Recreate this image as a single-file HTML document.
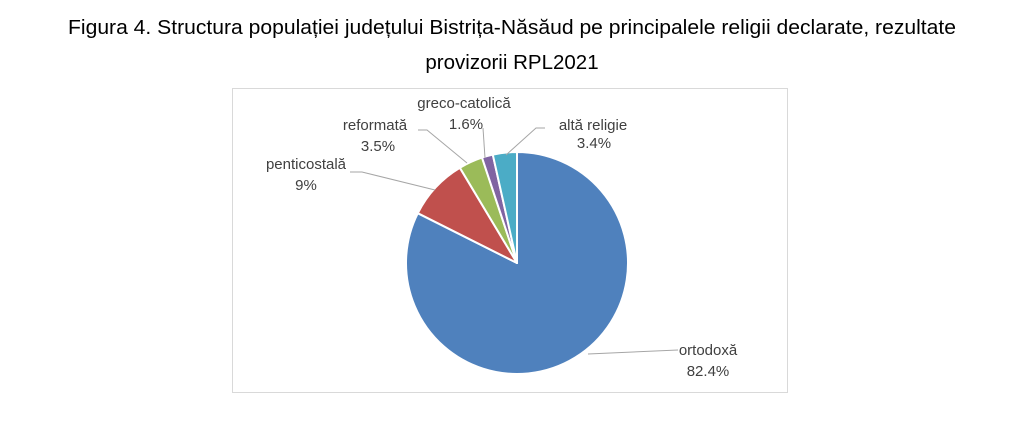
<!DOCTYPE html>
<html><head><meta charset="utf-8"><style>
body{margin:0;background:#fff;width:1024px;height:417px;overflow:hidden;font-family:"Liberation Sans",sans-serif}
</style></head><body>
<svg width="1024" height="417" xmlns="http://www.w3.org/2000/svg" font-family="Liberation Sans, sans-serif">
<text x="512" y="34" font-size="20.5" text-anchor="middle" fill="#000" textLength="888" lengthAdjust="spacingAndGlyphs">Figura 4. Structura populației județului Bistrița-Năsăud pe principalele religii declarate, rezultate</text>
<text x="512" y="69" font-size="20.5" text-anchor="middle" fill="#000">provizorii RPL2021</text>
<rect x="232.5" y="88.5" width="555" height="304" fill="#fff" stroke="#d9d9d9"/>
<g stroke="#fff" stroke-width="2" stroke-linejoin="round">
<path d="M517,263 L517,152 A111,111 0 1 1 417.8,213.2 Z" fill="#4f81bd"/>
<path d="M517,263 L417.8,213.2 A111,111 0 0 1 459.9,167.8 Z" fill="#c0504d"/>
<path d="M517,263 L459.9,167.8 A111,111 0 0 1 482,157.6 Z" fill="#9bbb59"/>
<path d="M517,263 L482,157.6 A111,111 0 0 1 492.8,154.7 Z" fill="#8064a2"/>
<path d="M517,263 L492.8,154.7 A111,111 0 0 1 517,152 Z" fill="#4bacc6"/>
</g>
<g stroke="#a6a6a6" fill="none" stroke-width="1">
<polyline points="588,354 678,350"/>
<polyline points="350,172 362,172 435,190"/>
<polyline points="418,130 427,130 467,163"/>
<polyline points="483,128 485,158"/>
<polyline points="545,128 536,128 506,155"/>
</g>
<g font-size="15" fill="#404040" text-anchor="middle">
<text x="708" y="355">ortodoxă</text><text x="708" y="376">82.4%</text>
<text x="306" y="169">penticostală</text><text x="306" y="190">9%</text>
<text x="375" y="130">reformată</text><text x="378" y="151">3.5%</text>
<text x="464" y="108">greco-catolică</text><text x="466" y="129">1.6%</text>
<text x="593" y="130">altă religie</text><text x="594" y="148">3.4%</text>
</g>
</svg>
</body></html>
